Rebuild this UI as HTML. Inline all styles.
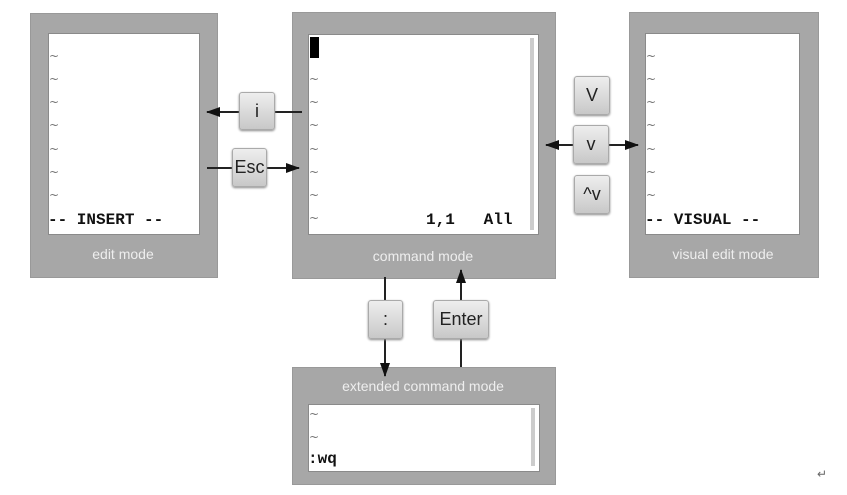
<!DOCTYPE html>
<html><head><style>
body{margin:0;width:847px;height:495px;background:#fff;position:relative;overflow:hidden;font-family:"Liberation Sans",sans-serif}
.p{position:absolute;background:#a7a7a7;border:1px solid #999}
.w{position:absolute;background:#fff;border:1px solid #8a8a8a}
.lab{position:absolute;color:#eee;font-size:14px;text-align:center}
.t{position:absolute;color:#777;font-size:12px;left:1px;font-family:"DejaVu Sans",sans-serif}
.m{position:absolute;font-family:"Liberation Mono",monospace;font-weight:bold;font-size:16px;color:#111;white-space:pre}
.k{position:absolute;background:linear-gradient(#eee,#c8c8c8);border:1px solid #aaa;border-radius:3px;box-shadow:0 1px 2px #888;font-size:18px;color:#222;text-align:center}
.sb{position:absolute;background:#ccc;width:4px}
svg{position:absolute;left:0;top:0}
</style></head><body>
<div class="p" style="left:30px;top:13px;width:186px;height:263px"></div>
<div class="w" style="left:48px;top:33px;width:150px;height:200px"></div>
<div class="lab" style="left:30px;top:246px;width:186px">edit mode</div>
<div class="p" style="left:292px;top:12px;width:262px;height:265px"></div>
<div class="w" style="left:308px;top:34px;width:229px;height:199px"></div>
<div class="sb" style="left:530px;top:38px;height:192px"></div>
<div style="position:absolute;left:310px;top:37px;width:9px;height:21px;background:#000"></div>
<div class="lab" style="left:292px;top:248px;width:262px">command mode</div>
<div class="p" style="left:629px;top:12px;width:188px;height:264px"></div>
<div class="w" style="left:645px;top:33px;width:153px;height:200px"></div>
<div class="lab" style="left:629px;top:246px;width:188px">visual edit mode</div>
<div class="p" style="left:292px;top:367px;width:262px;height:116px"></div>
<div class="lab" style="left:292px;top:378px;width:262px">extended command mode</div>
<div class="w" style="left:308px;top:404px;width:230px;height:66px"></div>
<div class="sb" style="left:531px;top:408px;height:58px"></div>

<div class="t" style="left:49px;top:49px">~</div><div class="t" style="left:49px;top:72px">~</div><div class="t" style="left:49px;top:95px">~</div><div class="t" style="left:49px;top:118px">~</div><div class="t" style="left:49px;top:142px">~</div><div class="t" style="left:49px;top:165px">~</div><div class="t" style="left:49px;top:188px">~</div>
<div class="t" style="left:309px;top:72px">~</div><div class="t" style="left:309px;top:95px">~</div><div class="t" style="left:309px;top:118px">~</div><div class="t" style="left:309px;top:142px">~</div><div class="t" style="left:309px;top:165px">~</div><div class="t" style="left:309px;top:188px">~</div><div class="t" style="left:309px;top:211px">~</div>
<div class="t" style="left:646px;top:49px">~</div><div class="t" style="left:646px;top:72px">~</div><div class="t" style="left:646px;top:95px">~</div><div class="t" style="left:646px;top:118px">~</div><div class="t" style="left:646px;top:142px">~</div><div class="t" style="left:646px;top:165px">~</div><div class="t" style="left:646px;top:188px">~</div>
<div class="t" style="left:309px;top:407px">~</div><div class="t" style="left:309px;top:430px">~</div>

<div class="m" style="left:48px;top:211px">-- INSERT --</div>
<div class="m" style="left:426px;top:211px">1,1   All</div>
<div class="m" style="left:645px;top:211px">-- VISUAL --</div>
<div class="m" style="left:308px;top:450px">:wq</div>

<svg width="847" height="495">
<defs><marker id="a" markerWidth="14" markerHeight="10" refX="13" refY="5" orient="auto" markerUnits="userSpaceOnUse"><path d="M0,0L14,5L0,10z" fill="#111"/></marker></defs>
<g stroke="#222" stroke-width="2" fill="none">
<line x1="302" y1="112" x2="207" y2="112" marker-end="url(#a)"/>
<line x1="207" y1="168" x2="299" y2="168" marker-end="url(#a)"/>
<line x1="575" y1="145" x2="546" y2="145" marker-end="url(#a)"/>
<line x1="605" y1="145" x2="638" y2="145" marker-end="url(#a)"/>
<line x1="385" y1="277" x2="385" y2="376" marker-end="url(#a)"/>
<line x1="461" y1="367" x2="461" y2="270" marker-end="url(#a)"/>
</g></svg>

<div class="k" style="left:239px;top:92px;width:34px;height:36px;line-height:36px">i</div>
<div class="k" style="left:232px;top:148px;width:33px;height:37px;line-height:37px">Esc</div>
<div class="k" style="left:574px;top:76px;width:34px;height:37px;line-height:37px">V</div>
<div class="k" style="left:573px;top:125px;width:34px;height:37px;line-height:37px">v</div>
<div class="k" style="left:574px;top:175px;width:34px;height:37px;line-height:37px">^v</div>
<div class="k" style="left:368px;top:300px;width:33px;height:37px;line-height:37px">:</div>
<div class="k" style="left:433px;top:300px;width:54px;height:37px;line-height:37px">Enter</div>
<div style="position:absolute;left:817px;top:467px;font-size:12px;color:#666">↵</div>
</body></html>
